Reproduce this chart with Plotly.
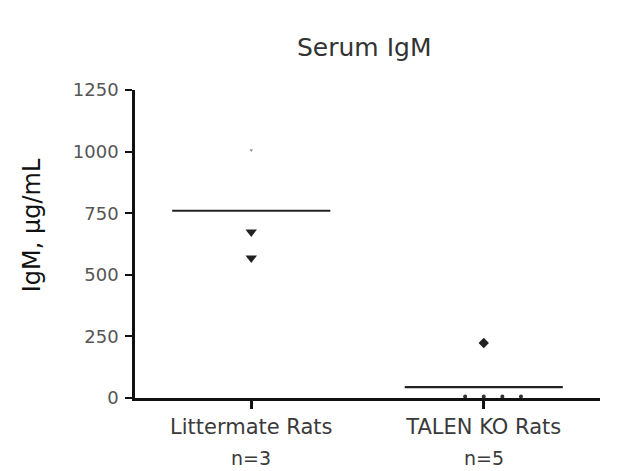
import plotly.graph_objects as go

categories = ["Littermate Rats", "TALEN KO Rats"]
group_n = ["n=3", "n=5"]
group_index = [0, 1]
littermate_values = [1005, 674, 568]
littermate_offsets = [0.0, 0.0, 0.0]
talen_values = [223, 6, 6, 6, 6]
talen_offsets = [0.0, -0.08, 0.0, 0.08, 0.16]
means = [760, 44]
yticks = [0, 250, 500, 750, 1000, 1250]

FONT = "DejaVu Sans"

fig = go.Figure()

# Littermate points (top one barely visible in reference)
fig.add_trace(go.Scatter(
    x=[group_index[0] + o for o in littermate_offsets[1:]], y=littermate_values[1:],
    mode="markers", marker=dict(symbol="triangle-down", size=10, color="#222"),
    showlegend=False))
fig.add_trace(go.Scatter(
    x=[group_index[0] + littermate_offsets[0]], y=[littermate_values[0]],
    mode="markers", marker=dict(symbol="triangle-down", size=3, color="#777"),
    showlegend=False))

# TALEN points
fig.add_trace(go.Scatter(
    x=[group_index[1] + talen_offsets[0]], y=[talen_values[0]],
    mode="markers", marker=dict(symbol="diamond", size=8, color="#222"),
    showlegend=False))
fig.add_trace(go.Scatter(
    x=[group_index[1] + o for o in talen_offsets[1:]], y=talen_values[1:],
    mode="markers", marker=dict(symbol="circle", size=4, color="#333"),
    showlegend=False))

# Mean lines
half = 0.34
for gi, m in zip(group_index, means):
    fig.add_trace(go.Scatter(
        x=[gi - half, gi + half], y=[m, m], mode="lines",
        line=dict(color="#222", width=2.2), showlegend=False))

# n= labels under categories
for gi, t in zip(group_index, group_n):
    fig.add_annotation(x=gi, xref="x", y=-0.195, yref="paper", text=t,
                       showarrow=False, yanchor="middle",
                       font=dict(family=FONT, size=19, color="#3a3a3a"))

# y axis title
fig.add_annotation(x=-0.222, xref="paper", y=700, yref="y", text="IgM, µg/mL",
                   textangle=-90, showarrow=False, xanchor="center", yanchor="middle",
                   font=dict(family=FONT, size=24, color="#111"))

fig.update_layout(
    width=625, height=471,
    margin=dict(l=127, r=33, t=82, b=81),
    paper_bgcolor="white", plot_bgcolor="white",
    title=dict(text="Serum IgM", x=0.57, xanchor="center", y=0.917, yanchor="middle",
               font=dict(family=FONT, size=25, color="#333")),
    font=dict(family=FONT, color="#444"),
)
fig.update_xaxes(
    range=[-0.5, 1.5], tickmode="array", tickvals=group_index, ticktext=categories,
    showline=True, linecolor="#111", linewidth=2.5, ticks="outside", ticklen=8,
    tickwidth=2.5, tickcolor="#111", showgrid=False, zeroline=False,
    tickfont=dict(family=FONT, size=21, color="#3a3a3a"))
fig.update_yaxes(
    range=[0, 1250], tickmode="array", tickvals=yticks,
    showline=True, linecolor="#111", linewidth=2.5, ticks="outside", ticklen=7,
    tickwidth=2, tickcolor="#111", showgrid=False, zeroline=False,
    ticklabelstandoff=3,
    tickfont=dict(family=FONT, size=18, color="#555"))

fig.write_html("out.html")
